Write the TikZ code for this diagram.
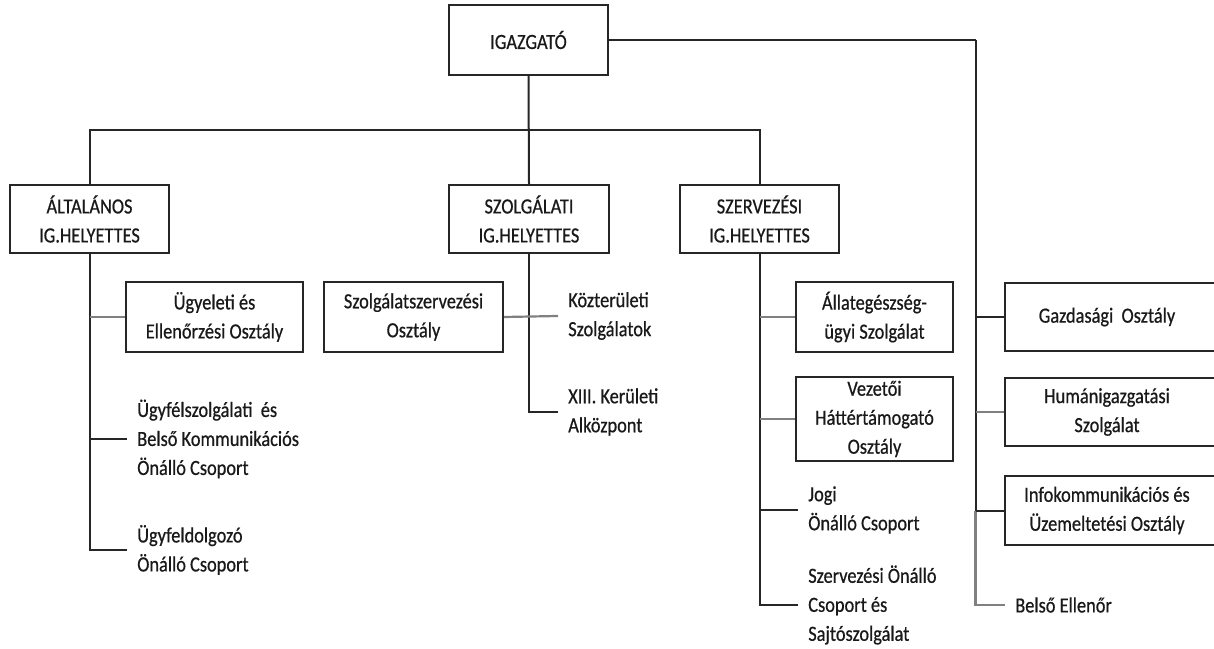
\documentclass[tikz,border=0pt]{standalone}
\usepackage{fontspec}
\setmainfont{Carlito}[FakeStretch=0.85,FakeBold=0.6]
\newdimen\pxu \pxu=0.75pt
\begin{document}
\begin{tikzpicture}[x=0.75pt,y=-0.75pt,
  every node/.style={font=\fontsize{16.2}{21.75}\selectfont, text=black!90},
  box/.style={draw=black!85, line width=2\pxu, align=center, inner sep=0pt},
  rbox/.style={box, minimum width=221\pxu, text width=204\pxu, inner xsep=0pt},
  txt/.style={align=left, anchor=west, inner xsep=10\pxu, inner ysep=0pt},
  ln/.style={draw=black!85, line width=2\pxu},
  gln/.style={draw=black!50, line width=2.2\pxu}]
\useasboundingbox (0,0) rectangle (1214,649);
\clip (0,0) rectangle (1214,649);
\fill[white] (0,0) rectangle (1214,649);

% top
\node[box, minimum width=159\pxu, minimum height=70\pxu] (ig) at (528.5,40) {IGAZGATÓ};
\node[box, minimum width=159\pxu, minimum height=68\pxu] (alt) at (89.5,219) {ÁLTALÁNOS\\IG.HELYETTES};
\node[box, minimum width=160\pxu, minimum height=68\pxu] (szo) at (529,219) {SZOLGÁLATI\\IG.HELYETTES};
\node[box, minimum width=159\pxu, minimum height=68\pxu] (sze) at (759.5,219) {SZERVEZÉSI\\IG.HELYETTES};

% left branch
\node[box, minimum width=177\pxu, minimum height=70\pxu] (ugy) at (214.5,317) {Ügyeleti és\\Ellenőrzési Osztály};
\node[txt] (ugyf) at (127,439) {Ügyfélszolgálati\ \ és\\Belső Kommunikációs\\Önálló Csoport};
\node[txt] (ugyfeld) at (127,550) {Ügyfeldolgozó\\Önálló Csoport};

% middle branch
\node[box, minimum width=179\pxu, minimum height=70\pxu] (szsz) at (413.5,317) {Szolgálatszervezési\\Osztály};
\node[txt] (kozt) at (558,316) {Közterületi\\Szolgálatok};
\node[txt] (xiii) at (558,412) {XIII. Kerületi\\Alközpont};

% right-middle branch
\node[box, minimum width=157\pxu, minimum height=70\pxu] (allat) at (874.5,317) {Állategészség-\\ügyi Szolgálat};
\node[box, minimum width=157\pxu, minimum height=84\pxu] (vez) at (874.5,419) {Vezetői\\Háttértámogató\\Osztály};
\node[txt] (jogi) at (798,510) {Jogi\\Önálló Csoport};
\node[txt] (szoj) at (798,605) {Szervezési Önálló\\Csoport és\\Sajtószolgálat};

% right column (right edge runs off the page)
\node[box, minimum width=221\pxu, minimum height=68\pxu] (gazd) at (1115.5,317) {Gazdasági\ \ Osztály\hspace*{17\pxu}};
\node[box, minimum width=221\pxu, minimum height=68\pxu, align=center] (hum) at (1115.5,412) {\hspace*{-17\pxu}Humánigazgatási\\\hspace*{-17\pxu}Szolgálat};
\node[box, minimum width=221\pxu, minimum height=69\pxu, align=center] (info) at (1115.5,510.5) {\hspace*{-17\pxu}Infokommunikációs és\\\hspace*{-17\pxu}Üzemeltetési Osztály};
\node[txt] (belso) at (1005,605) {Belső Ellenőr};

\coordinate (bar) at (529,130);
\coordinate (rc) at (975.5,40);

% connectors
\draw[ln] (ig.south) -- (szo.north);
\draw[ln] (alt.north) -- (alt.north |- bar) -- (sze.north |- bar) -- (sze.north);

\draw[ln] (alt.south) |- (ugyfeld.west);
\draw[gln] (alt.south |- ugy.west) -- (ugy.west);
\draw[ln] (alt.south |- ugyf.west) -- (ugyf.west -| ugyfeld.west);

\draw[ln] (szo.south) |- (xiii.west);
\draw[gln] (szsz.east) -- (kozt.west);

\draw[ln] (sze.south) |- (szoj.west);
\draw[gln] (sze.south |- allat.west) -- (allat.west);
\draw[gln] (sze.south |- vez.west) -- (vez.west);
\draw[ln] (sze.south |- jogi.west) -- (jogi.west);

\draw[ln] (ig.east) -- (rc);
\draw[ln] (rc) -- (rc |- info.west);
\draw[gln] (rc |- info.west) |- (belso.west);
\draw[ln] (rc |- gazd.west) -- (gazd.west);
\draw[gln] (rc |- hum.west) -- (hum.west);
\draw[ln] (rc |- info.west) -- (info.west);
\end{tikzpicture}
\end{document}
